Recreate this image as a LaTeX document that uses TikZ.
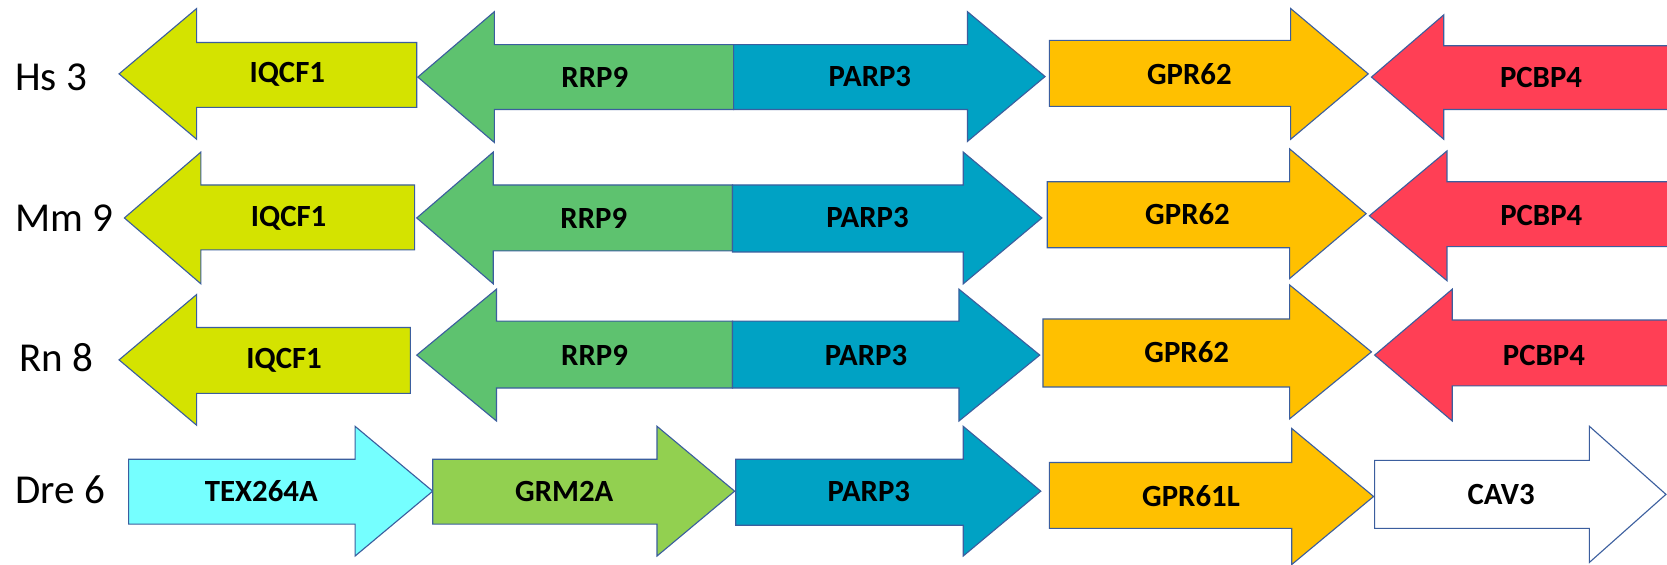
\documentclass[tikz,border=0pt]{standalone}
\usepackage{fontspec}
\setmainfont{Carlito}
\definecolor{cIQCF}{HTML}{D4E300}
\definecolor{cRRP}{HTML}{5EC26F}
\definecolor{cPARP}{HTML}{00A2C4}
\definecolor{cGPR}{HTML}{FFC000}
\definecolor{cPCBP}{HTML}{FF3F55}
\definecolor{cTEX}{HTML}{75FFFF}
\definecolor{cGRM}{HTML}{92D050}
\definecolor{edge}{HTML}{3B5E9E}
\tikzset{
  gene/.style={draw=edge, line width=0.6pt, line join=miter},
  genelabel/.style={font=\fontsize{16.5}{19}\selectfont\bfseries, text=black, inner sep=0pt},
  species/.style={font=\fontsize{22}{26}\selectfont, text=black, inner sep=0pt, anchor=west}
}
% forward gene: name, colour, start, head base, tip, shaft top, shaft bottom, head top, head bottom
\newcommand\fwdgene[9]{%
  \pgfmathsetmacro\ty{(#8+#9)/2}%
  \pgfmathsetmacro\lx{(2*#3+#4+#5)/4}%
  \draw[gene, fill=#2] (#3,#6) -- (#4,#6) -- (#4,#8) -- (#5,\ty) -- (#4,#9) -- (#4,#7) -- (#3,#7) -- cycle;
  \node[genelabel] (#1) at (\lx,\ty) {\genename};}
% reverse gene: name, colour, tip, head base, end, shaft top, shaft bottom, head top, head bottom
\newcommand\revgene[9]{%
  \pgfmathsetmacro\ty{(#8+#9)/2}%
  \pgfmathsetmacro\lx{(#3+#4+2*#5)/4}%
  \draw[gene, fill=#2] (#3,\ty) -- (#4,#8) -- (#4,#6) -- (#5,#6) -- (#5,#7) -- (#4,#7) -- (#4,#9) -- cycle;
  \node[genelabel] (#1) at (\lx,\ty) {\genename};}
\begin{document}
\begin{tikzpicture}[x=0.02cm, y=-0.02cm]
\useasboundingbox (0,0) rectangle (1568,531);
\fill[white] (0,0) rectangle (1568,531);

% species labels
\node[species] (hs) at (14,73) {Hs 3};
\node[species] (mm) at (14,205) {Mm 9};
\node[species] (rn) at (18,336) {Rn 8};
\node[species] (dre) at (14,461) {Dre 6};

% Hs 3
\def\genename{IQCF1}\revgene{hsIQCF}{cIQCF}{112}{185}{392}{40}{101}{8}{131}
\def\genename{RRP9}\revgene{hsRRP}{cRRP}{393}{465}{690}{42}{103}{11}{134}
\def\genename{PARP3}\fwdgene{hsPARP}{cPARP}{690}{910}{983}{42}{103}{11}{133}
\def\genename{GPR62}\fwdgene{hsGPR}{cGPR}{987}{1214}{1287}{38}{100}{8}{131}
\def\genename{PCBP4}\revgene{hsPCBP}{cPCBP}{1290}{1358}{1575}{43}{103}{14}{131}

% Mm 9
\def\genename{IQCF1}\revgene{mmIQCF}{cIQCF}{117}{189}{390}{174}{235}{143}{267}
\def\genename{RRP9}\revgene{mmRRP}{cRRP}{392}{464}{689}{174}{236}{143}{267}
\def\genename{PARP3}\fwdgene{mmPARP}{cPARP}{689}{906}{980}{174}{237}{143}{267}
\def\genename{GPR62}\fwdgene{mmGPR}{cGPR}{985}{1213}{1285}{171}{233}{140}{262}
\def\genename{PCBP4}\revgene{mmPCBP}{cPCBP}{1288}{1361}{1575}{171}{232}{142}{264}

% Rn 8
\def\genename{IQCF1}\revgene{rnIQCF}{cIQCF}{112}{185}{386}{308}{370}{277}{400}
\def\genename{RRP9}\revgene{rnRRP}{cRRP}{392}{467}{689}{302}{365}{272}{396}
\def\genename{PARP3}\fwdgene{rnPARP}{cPARP}{689}{902}{978}{302}{365}{272}{396}
\def\genename{GPR62}\fwdgene{rnGPR}{cGPR}{981}{1213}{1290}{300}{364}{268}{394}
\def\genename{PCBP4}\revgene{rnPCBP}{cPCBP}{1293}{1366}{1575}{301}{363}{272}{396}

% Dre 6
\def\genename{TEX264A}\fwdgene{drTEX}{cTEX}{121}{334}{407}{432}{493}{401}{523}
\def\genename{GRM2A}\fwdgene{drGRM}{cGRM}{407}{618}{691}{432}{493}{401}{523}
\def\genename{PARP3}\fwdgene{drPARP}{cPARP}{692}{906}{979}{432}{494}{401}{523}
\def\genename{GPR61L}\fwdgene{drGPR}{cGPR}{987}{1215}{1292}{435}{497}{403}{531}
\def\genename{CAV3}\fwdgene{drCAV}{white}{1293}{1495}{1567}{433}{497}{401}{529}
\end{tikzpicture}
\end{document}
